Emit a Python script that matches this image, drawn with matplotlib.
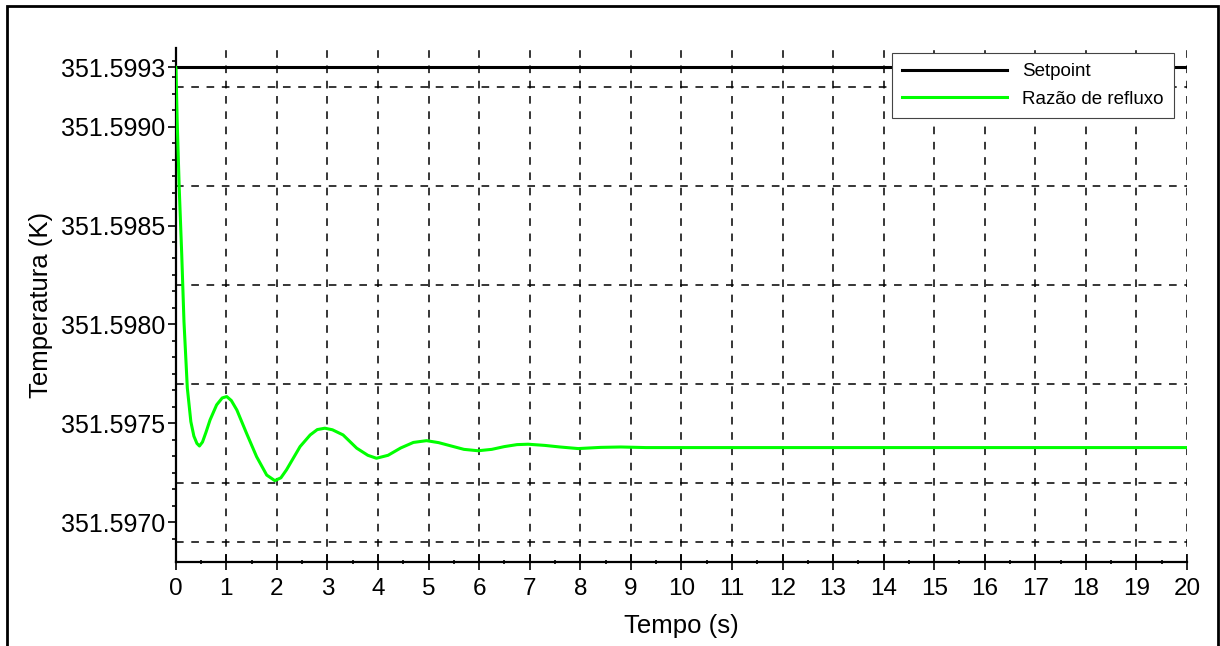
import numpy as np
import matplotlib
matplotlib.use("Agg")
import matplotlib.pyplot as plt
from matplotlib.patches import Rectangle
from matplotlib.ticker import FixedLocator, FormatStrFormatter

plt.rcParams['font.family'] = ['Liberation Sans', 'DejaVu Sans']

# values
setpoint = 351.5993
tempo = [0.0, 0.006, 0.03, 0.07, 0.12, 0.164, 0.23, 0.30, 0.36, 0.42, 0.47,
         0.53, 0.60, 0.68, 0.81, 0.92, 1.01, 1.10, 1.21, 1.40, 1.60, 1.80,
         1.96, 2.08, 2.19, 2.46, 2.66, 2.80, 2.95, 3.10, 3.31, 3.58, 3.80,
         3.97, 4.20, 4.45, 4.70, 4.96, 5.20, 5.45, 5.70, 5.98, 6.25, 6.50,
         6.75, 6.97, 7.30, 7.60, 7.96, 8.40, 8.80, 9.30, 10.0, 20.0]
temperatura = [351.5993, 351.599296, 351.599026, 351.59869, 351.598351,
               351.598014, 351.597679, 351.597508, 351.597435, 351.597398,
               351.597385, 351.597405, 351.597455, 351.597517, 351.597593,
               351.597628, 351.597635, 351.597615, 351.597567, 351.59745,
               351.597331, 351.597238, 351.59721, 351.597224, 351.597264,
               351.597382, 351.597441, 351.597468, 351.597475, 351.597467,
               351.597441, 351.597374, 351.597338, 351.597323, 351.597338,
               351.597375, 351.597403, 351.597412, 351.597402, 351.597385,
               351.597368, 351.597361, 351.597368, 351.597382, 351.597392,
               351.597394, 351.597388, 351.59738, 351.597372, 351.597378,
               351.597380, 351.597377, 351.597377, 351.597377]

y_ticks = [351.5970, 351.5975, 351.5980, 351.5985, 351.5990, 351.5993]
y_grid = [351.5969, 351.5972, 351.5977, 351.5982, 351.5987, 351.5992]
x_ticks = list(range(0, 21))

fig = plt.figure(figsize=(12.2, 6.46), dpi=100)
ax = fig.add_axes([0.144, 0.1296, 0.829, 0.7956])

# dashed grid
for xv in x_ticks[1:]:
    ax.axvline(xv, color='black', lw=1.1, ls=(0, (5, 5)), zorder=1)
for yv in y_grid:
    ax.axhline(yv, color='black', lw=1.1, ls=(0, (5, 5)), zorder=1)

ax.plot([0, 20], [setpoint, setpoint], color='black', lw=2.2, label='Setpoint', zorder=3)
ax.plot(tempo, temperatura, color='#00ff00', lw=2.2, label='Razão de refluxo', zorder=4)

ax.set_xlim(0, 20)
ax.set_ylim(351.596797, 351.599396)

ax.xaxis.set_major_locator(FixedLocator(x_ticks))
ax.xaxis.set_minor_locator(FixedLocator(np.arange(0.5, 20, 1.0)))
ax.yaxis.set_major_locator(FixedLocator(y_ticks))
ax.yaxis.set_minor_locator(FixedLocator(351.5970 + np.arange(-1, 29) * 0.0005 / 6))
ax.yaxis.set_major_formatter(FormatStrFormatter('%.4f'))

ax.tick_params(axis='x', which='major', direction='inout', length=11, width=1.2,
               labelsize=17.5, pad=6)
ax.tick_params(axis='x', which='minor', direction='inout', length=3, width=1.2)
ax.tick_params(axis='y', which='major', direction='out', length=6, width=1.2,
               labelsize=18, pad=1.5)
ax.tick_params(axis='y', which='minor', direction='out', length=3, width=1.2)

for s in ['top', 'right']:
    ax.spines[s].set_visible(False)
for s in ['left', 'bottom']:
    ax.spines[s].set_linewidth(1.6)

ax.set_xlabel('Tempo (s)', fontsize=18.5)
ax.set_ylabel('Temperatura (K)', fontsize=18.5)
ax.xaxis.set_label_coords(0.5, -0.10)
ax.yaxis.set_label_coords(-0.121, 0.5)

leg = ax.legend(loc='upper right', bbox_to_anchor=(0.987, 0.991), borderaxespad=0,
                fontsize=13.5, handlelength=5.6, fancybox=False, framealpha=1,
                edgecolor='#444444', borderpad=0.55, labelspacing=0.55, handletextpad=0.8)
leg.get_frame().set_linewidth(0.8)
leg.set_zorder(10)

# outer frame of the picture
fig.patches.append(Rectangle((7 / 1220, -0.1), 1211 / 1220, 1.1 - 6 / 646,
                             transform=fig.transFigure, fill=False,
                             edgecolor='black', lw=2, zorder=0))

fig.savefig('out.png', dpi=100)
